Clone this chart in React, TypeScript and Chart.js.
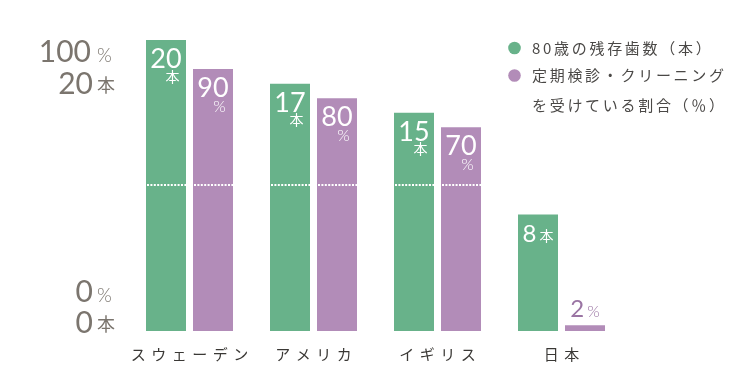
import React, { useEffect, useRef } from "react";
import { Chart, registerables } from "chart.js";

Chart.register(...registerables);

const categories = ["スウェーデン", "アメリカ", "イギリス", "日本"];
const teethCount = [20, 17, 15, 8];
const checkupRate = [90, 80, 70, 2];
const teethAxisMax = 20;
const rateAxisMax = 100;
const legendLines = ["80歳の残存歯数（本）", "定期検診・クリーニング", "を受けている割合（％）"];

const GREEN = "#68b28a";
const PURPLE = "#b28cb8";
const PURPLE_TEXT = "#9a74a3";
const AXIS_TEXT = "#7b756e";
const NUM_FONT = "'Lato', 'Open Sans', sans-serif";
const JP_FONT = "'Noto Sans CJK JP', 'Noto Sans', sans-serif";

function drawSpaced(ctx: CanvasRenderingContext2D, text: string, x: number, y: number, spacing: number, align: "left" | "center") {
  const chars = Array.from(text);
  const widths = chars.map((c) => ctx.measureText(c).width);
  const total = widths.reduce((a, b) => a + b, 0) + spacing * (chars.length - 1);
  let cx = align === "center" ? x - total / 2 : x;
  ctx.textAlign = "left";
  chars.forEach((c, i) => {
    ctx.fillText(c, cx, y);
    cx += widths[i] + spacing;
  });
}

const overlayPlugin = {
  id: "overlay",
  afterDatasetsDraw(chart: any) {
    const ctx: CanvasRenderingContext2D = chart.ctx;
    const yScale = chart.scales.y;
    const xScale = chart.scales.x;
    const midY = Math.round(yScale.getPixelForValue(teethAxisMax / 2)) - 1;
    ctx.save();

    // dotted mid lines
    chart.data.datasets.forEach((_ds: any, di: number) => {
      const meta = chart.getDatasetMeta(di);
      meta.data.forEach((bar: any) => {
        if (bar.y < midY - 2) {
          ctx.save();
          ctx.strokeStyle = "#ffffff";
          ctx.lineWidth = 2;
          ctx.setLineDash([2, 1.4]);
          ctx.beginPath();
          ctx.moveTo(Math.round(bar.x - bar.width / 2) + 1, midY);
          ctx.lineTo(bar.x + bar.width / 2, midY);
          ctx.stroke();
          ctx.restore();
        }
      });
    });

    // value labels
    const units = ["本", "%"];
    chart.data.datasets.forEach((ds: any, di: number) => {
      const meta = chart.getDatasetMeta(di);
      meta.data.forEach((bar: any, i: number) => {
        const v = String(ds.data[i]);
        const unit = units[di];
        const unitFont = di === 0 ? `14px ${JP_FONT}` : `300 16px ${NUM_FONT}`;
        const h = bar.base - bar.y;
        ctx.textBaseline = "alphabetic";
        if (h > 140) {
          ctx.fillStyle = "#ffffff";
          ctx.font = `400 27px ${NUM_FONT}`;
          ctx.textAlign = "center";
          ctx.fillText(v, bar.x, bar.y + 28);
          ctx.font = unitFont;
          ctx.fillText(unit, bar.x + 6.5, bar.y + (di === 0 ? 41.5 : 43));
        } else {
          const inside = h > 40;
          ctx.fillStyle = inside ? "#ffffff" : PURPLE_TEXT;
          const baseY = inside ? bar.y + 27 : bar.y - 8;
          ctx.font = `400 24px ${NUM_FONT}`;
          const wn = ctx.measureText(v).width;
          ctx.font = unitFont;
          const wu = ctx.measureText(unit).width;
          const gap = 3;
          const left = bar.x - (wn + gap + wu) / 2;
          ctx.textAlign = "left";
          ctx.font = `400 24px ${NUM_FONT}`;
          ctx.fillText(v, left, baseY);
          ctx.font = unitFont;
          ctx.fillText(unit, left + wn + gap, baseY - (di === 0 ? 1 : 0));
        }
      });
    });

    // axis labels
    const top = yScale.getPixelForValue(teethAxisMax);
    const bottom = yScale.getPixelForValue(0);
    ctx.fillStyle = AXIS_TEXT;
    ctx.textBaseline = "alphabetic";
    const axisNum = (t: string, xr: number, y: number) => {
      ctx.font = `400 30px ${NUM_FONT}`;
      ctx.textAlign = "right";
      ctx.fillText(t, xr, y);
    };
    const axisUnit = (t: string, y: number) => {
      ctx.font = t === "本" ? `18px ${JP_FONT}` : `300 19px ${NUM_FONT}`;
      ctx.textAlign = "left";
      ctx.fillText(t, 97, y);
    };
    axisNum(String(rateAxisMax), 91, top + 22);
    axisUnit("%", top + 22);
    axisNum(String(teethAxisMax), 93, top + 54);
    axisUnit("本", top + 52);
    axisNum("0", 93, bottom - 29);
    axisUnit("%", bottom - 29);
    axisNum("0", 93, bottom + 2);
    axisUnit("本", bottom);

    // category labels
    ctx.fillStyle = "#3a3835";
    ctx.font = `15px ${JP_FONT}`;
    ctx.textBaseline = "alphabetic";
    categories.forEach((c, i) => {
      drawSpaced(ctx, c, xScale.getPixelForValue(i), 360, 5.5, "center");
    });

    // legend
    const lx = 514.5;
    const ly = [48, 75.5, 105];
    ctx.fillStyle = GREEN;
    ctx.beginPath();
    ctx.arc(lx, ly[0], 6.3, 0, Math.PI * 2);
    ctx.fill();
    ctx.fillStyle = PURPLE;
    ctx.beginPath();
    ctx.arc(lx, ly[1], 6.3, 0, Math.PI * 2);
    ctx.fill();
    ctx.fillStyle = "#4a4846";
    ctx.font = `15px ${JP_FONT}`;
    ctx.textBaseline = "middle";
    legendLines.forEach((t, i) => {
      drawSpaced(ctx, t, 532, ly[i], 2.7, "left");
    });

    ctx.restore();
  },
};

export default function App() {
  const canvasRef = useRef<HTMLCanvasElement | null>(null);

  useEffect(() => {
    document.body.style.margin = "0";
    const canvas = canvasRef.current;
    if (!canvas) return;
    const chart = new Chart(canvas, {
      type: "bar",
      data: {
        labels: categories,
        datasets: [
          {
            label: legendLines[0],
            data: teethCount,
            backgroundColor: GREEN,
            yAxisID: "y",
            categoryPercentage: 94 / 124,
            barPercentage: 40 / 47,
          },
          {
            label: legendLines[1] + legendLines[2],
            data: checkupRate,
            backgroundColor: PURPLE,
            yAxisID: "y2",
            categoryPercentage: 94 / 124,
            barPercentage: 40 / 47,
          },
        ],
      },
      options: {
        responsive: false,
        animation: false,
        events: [],
        layout: { padding: { left: 127.5, right: 126.5, top: 40, bottom: 39 } },
        plugins: { legend: { display: false }, tooltip: { enabled: false } },
        scales: {
          x: { display: false },
          y: { display: false, min: 0, max: teethAxisMax },
          y2: { display: false, min: 0, max: rateAxisMax },
        },
      },
      plugins: [overlayPlugin],
    });
    return () => chart.destroy();
  }, []);

  return (
    <div style={{ width: 750, height: 370, background: "#ffffff" }}>
      <canvas ref={canvasRef} width={750} height={370} style={{ display: "block" }} />
    </div>
  );
}
